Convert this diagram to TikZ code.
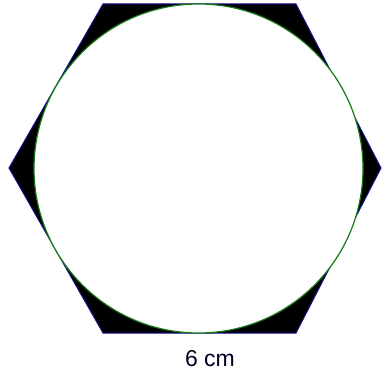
\documentclass[tikz,border=0pt]{standalone}
\usepackage{fontspec}
\setmainfont{Liberation Sans}
\definecolor{hexblue}{RGB}{20,20,140}
\definecolor{circgreen}{RGB}{20,120,20}
\tikzset{
  hexshape/.style={fill=black, draw=hexblue, line width=1pt, line join=miter},
  circshape/.style={fill=white, draw=circgreen, line width=1.2pt},
  dimlabel/.style={font=\fontsize{23}{26}\selectfont, text=black!85!blue, inner sep=0pt, anchor=base}
}
\begin{document}
\begin{tikzpicture}[x=1pt,y=1pt]
  \useasboundingbox (0,0) rectangle (382,373);
  % image y -> 373 - y
  \coordinate (v1) at (103,369);
  \coordinate (v2) at (296,369);
  \coordinate (v3) at (381,205);
  \coordinate (v4) at (296,40);
  \coordinate (v5) at (103,40);
  \coordinate (v6) at (9,205);
  \path[hexshape] (v1) -- (v2) -- (v3) -- (v4) -- (v5) -- (v6) -- cycle;
  \node[circshape, circle, minimum size=329pt, inner sep=0pt] (c) at (198.5,204.5) {};
  \node[dimlabel] (lbl) at (210,7) {6 cm};
\end{tikzpicture}
\end{document}
